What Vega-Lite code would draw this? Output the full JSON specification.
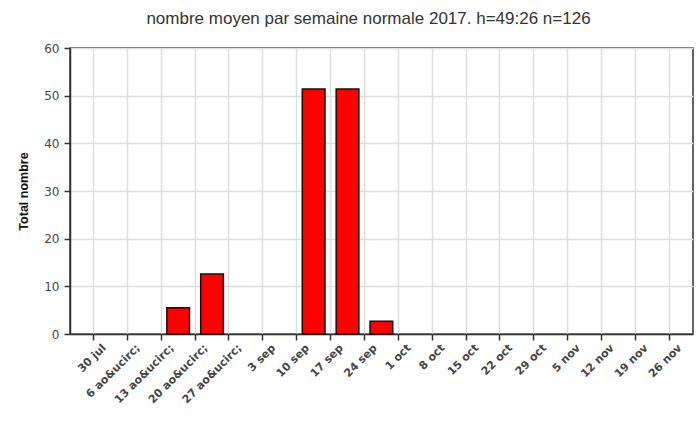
{
  "$schema": "https://vega.github.io/schema/vega-lite/v6.json",
  "autosize": "none",
  "width": 623,
  "height": 286,
  "padding": {"left": 70, "top": 48, "right": 6, "bottom": 87},
  "background": "white",
  "title": {
    "text": "nombre moyen par semaine normale 2017. h=49:26 n=126",
    "font": "Liberation Sans",
    "fontSize": 17,
    "fontWeight": "normal",
    "color": "#333",
    "offset": 14,
    "dx": -13
  },
  "config": {
    "view": {"stroke": "#333", "strokeWidth": 1.5},
    "axis": {
      "labelFont": "DejaVu Sans",
      "titleFont": "Liberation Sans",
      "labelColor": "#444",
      "tickColor": "#333",
      "domainColor": "#333",
      "domainWidth": 1.5,
      "tickWidth": 1.5,
      "tickSize": 6,
      "gridColor": "#dddddd",
      "gridWidth": 1.5
    }
  },
  "data": {
    "values": [
      {"semaine": "2017-08-13T00:00:00", "nombre": 5.5},
      {"semaine": "2017-08-20T00:00:00", "nombre": 12.6},
      {"semaine": "2017-09-10T00:00:00", "nombre": 51.4},
      {"semaine": "2017-09-17T00:00:00", "nombre": 51.4},
      {"semaine": "2017-09-24T00:00:00", "nombre": 2.7}
    ]
  },
  "mark": {
    "type": "bar",
    "color": "#ff0000",
    "stroke": "#111111",
    "strokeWidth": 1.5,
    "width": {"band": 0.7}
  },
  "encoding": {
    "x": {
      "field": "semaine",
      "timeUnit": "yearweek",
      "type": "temporal",
      "scale": {
        "domain": [
          {"year": 2017, "month": 7, "date": 25, "hours": 6},
          {"year": 2017, "month": 12, "date": 1, "hours": 0}
        ]
      },
      "axis": {
        "title": null,
        "tickCount": {"interval": "week", "step": 1},
        "labelExpr": "date(datum.value) + ' ' + ['jan','fév','mar','avr','mai','juin','jul','ao&ucirc;','sep','oct','nov','déc'][month(datum.value)]",
        "labelAngle": -45,
        "labelAlign": "right",
        "labelBaseline": "middle",
        "labelOffset": 11,
        "labelPadding": 6,
        "labelFontSize": 11,
        "labelFontWeight": "bold",
        "labelOverlap": false,
        "labelFlush": false,
        "labelBound": false
      }
    },
    "y": {
      "field": "nombre",
      "type": "quantitative",
      "scale": {"domain": [0, 60], "nice": false},
      "axis": {
        "title": "Total nombre",
        "titleFontSize": 12.5,
        "titleFontWeight": "bold",
        "titleColor": "#111",
        "titlePadding": 13,
        "values": [0, 10, 20, 30, 40, 50, 60],
        "labelFontSize": 12,
        "labelPadding": 5
      }
    }
  }
}
